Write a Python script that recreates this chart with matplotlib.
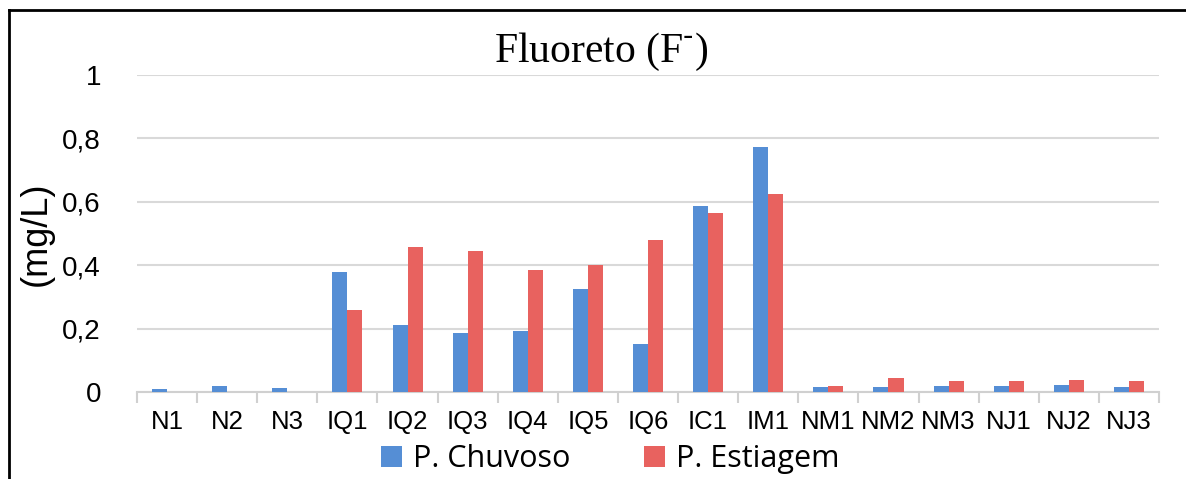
import matplotlib
matplotlib.use("Agg")
import matplotlib.pyplot as plt
import numpy as np
from matplotlib.lines import Line2D

categories = ["N1", "N2", "N3", "IQ1", "IQ2", "IQ3", "IQ4", "IQ5", "IQ6", "IC1", "IM1",
              "NM1", "NM2", "NM3", "NJ1", "NJ2", "NJ3"]
chuvoso = [0.009, 0.019, 0.013, 0.379, 0.211, 0.187, 0.192, 0.325, 0.151, 0.586, 0.772,
           0.016, 0.017, 0.018, 0.019, 0.021, 0.016]
estiagem = [0.0, 0.0, 0.0, 0.259, 0.457, 0.445, 0.384, 0.400, 0.480, 0.565, 0.624,
            0.020, 0.044, 0.034, 0.036, 0.039, 0.036]
yticks = [0, 0.2, 0.4, 0.6, 0.8, 1.0]
ytick_labels = ["0", "0,2", "0,4", "0,6", "0,8", "1"]

W, H = 1186, 479
fig = plt.figure(figsize=(W / 100, H / 100), dpi=100)
ax = fig.add_axes([137 / W, 1 - 392 / H, (1159 - 137) / W, (392 - 75) / H])

blue = "#558ED5"
red = "#E8625F"
x = np.arange(len(categories))
bw = 0.25
ax.bar(x - bw / 2, chuvoso, bw, color=blue, label="P. Chuvoso", zorder=3)
ax.bar(x + bw / 2, estiagem, bw, color=red, label="P. Estiagem", zorder=3)

ax.set_xlim(-0.5, len(categories) - 0.5)
ax.set_ylim(0, 1)
ax.set_yticks(yticks)
ax.set_yticklabels(ytick_labels, fontsize=20, family="Liberation Sans")
ax.set_xticks(x)
ax.set_xticklabels(categories, fontsize=18.5, family="Liberation Sans")
ax.set_xticks(np.arange(-0.5, len(categories)), minor=True)
ax.tick_params(axis="x", which="major", length=0, pad=13)
ax.tick_params(axis="x", which="minor", length=8, width=1.5, color="#D0D0D0")
ax.tick_params(axis="y", length=0, pad=26)
ax.grid(axis="y", color="#D9D9D9", linewidth=1.5, zorder=0)
for s in ["top", "right", "left"]:
    ax.spines[s].set_visible(False)
ax.spines["bottom"].set_color("#D0D0D0")
ax.spines["bottom"].set_linewidth(1.5)

ax.set_ylabel("(mg/L)", fontsize=26, family="Liberation Sans", labelpad=6)

fig.text(601 / W, 1 - 52 / H, "Fluoreto (F$^{\\text{-}}$)", ha="center", va="center",
         fontsize=30, family="Liberation Serif")

fig.legend(loc="center", bbox_to_anchor=(610 / W, 1 - 459 / H), ncol=2, frameon=False,
           prop={"family": "Open Sans", "size": 22}, handlelength=0.7, handleheight=0.7,
           handletextpad=0.35, columnspacing=2.4, borderpad=0, borderaxespad=0)

fig.add_artist(Line2D([9 / W, 9 / W], [0, 1 - 9.5 / H], transform=fig.transFigure,
                      color="black", linewidth=2))
fig.add_artist(Line2D([9 / W, 1], [1 - 9.5 / H, 1 - 9.5 / H], transform=fig.transFigure,
                      color="black", linewidth=2))

fig.savefig("out.png", dpi=100)
